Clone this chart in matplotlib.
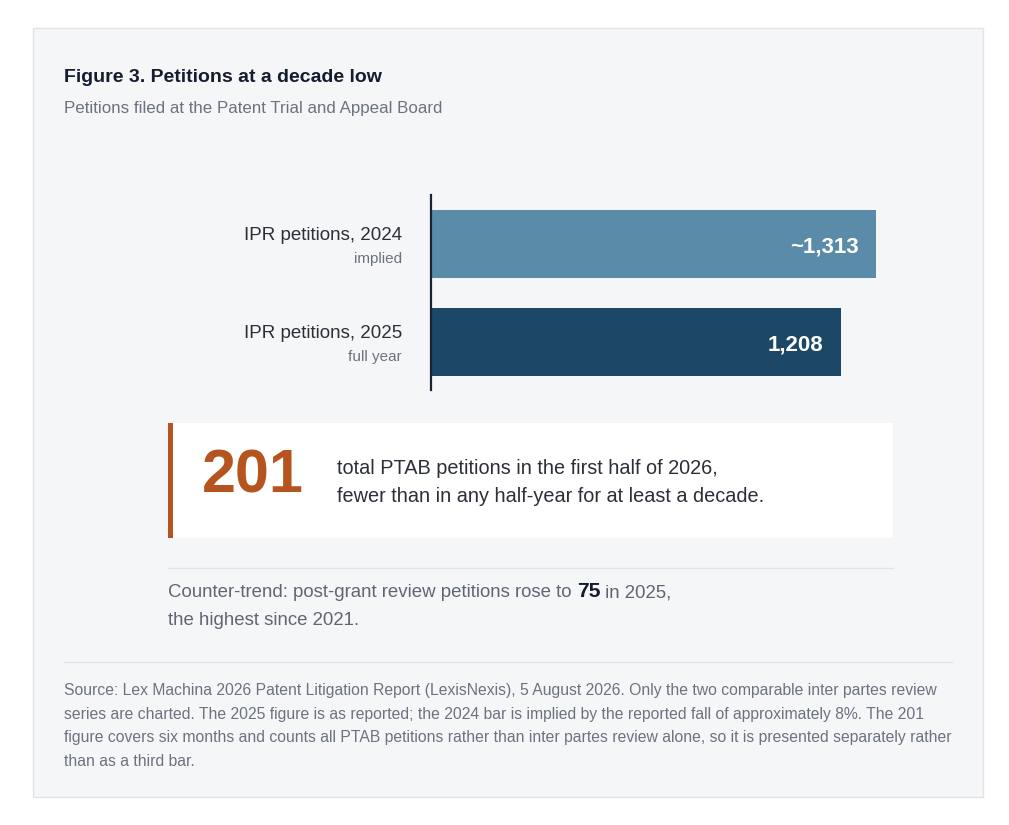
import matplotlib.pyplot as plt
from matplotlib.patches import Rectangle
from matplotlib.lines import Line2D

W, H = 1009, 825

# data
labels = ['IPR petitions, 2024', 'IPR petitions, 2025']
notes = ['implied', 'full year']
values = [1313, 1208]
value_text = ['~1,313', '1,208']
bar_colors = ['#5a8ba8', '#1c4766']

title = 'Figure 3. Petitions at a decade low'
subtitle = 'Petitions filed at the Patent Trial and Appeal Board'
big_number = '201'
callout_lines = ['total PTAB petitions in the first half of 2026,',
                 'fewer than in any half-year for at least a decade.']
source_lines = [
    'Source: Lex Machina 2026 Patent Litigation Report (LexisNexis), 5 August 2026. Only the two comparable inter partes review',
    'series are charted. The 2025 figure is as reported; the 2024 bar is implied by the reported fall of approximately 8%. The 201',
    'figure covers six months and counts all PTAB petitions rather than inter partes review alone, so it is presented separately rather',
    'than as a third bar.',
]

plt.rcParams['font.family'] = ['Liberation Sans', 'DejaVu Sans']

fig = plt.figure(figsize=(W / 100, H / 100), dpi=100)
fig.patch.set_facecolor('white')


def fx(x):
    return x / W


def fy(y):
    return 1 - y / H


def box(x0, y0, x1, y1, **kw):
    fig.patches.append(Rectangle((fx(x0), fy(y1)), fx(x1) - fx(x0), fy(y0) - fy(y1),
                                 transform=fig.transFigure, zorder=-5, **kw))


def hline(x0, x1, y, color, lw=1):
    fig.lines.append(Line2D([fx(x0), fx(x1)], [fy(y), fy(y)], transform=fig.transFigure,
                            color=color, lw=lw))


# card
box(33, 28, 983, 797, facecolor='#f5f6f8', edgecolor='#e1e3e7', lw=1)

fig.text(fx(64), fy(77.5), title, fontsize=14, fontweight='bold', color='#141c2e', va='center')
fig.text(fx(64), fy(108), subtitle, fontsize=12.2, color='#6b7280', va='center')

# bars
ax = fig.add_axes([fx(431), fy(390), fx(906) - fx(431), (390 - 195) / H])
ax.set_zorder(5)
ax.set_facecolor('none')
pos = list(range(len(values)))
ax.barh(pos, values, height=0.694, color=bar_colors)
ax.set_xlim(0, 1400)
ax.set_ylim(1.49, -0.5)
for s in ['top', 'right', 'bottom']:
    ax.spines[s].set_visible(False)
ax.spines['left'].set_color('#1a2333')
ax.spines['left'].set_linewidth(1.6)
ax.set_xticks([])
ax.set_yticks([])
for p, v, t in zip(pos, values, value_text):
    ax.annotate(t, xy=(v, p), xytext=(-18, -3), textcoords='offset pixels',
                ha='right', va='center', color='white', fontsize=16, fontweight='bold')
for p, lab, note in zip(pos, labels, notes):
    ax.annotate(lab, xy=(0, p), xycoords=('axes fraction', 'data'), xytext=(-29, 8),
                textcoords='offset pixels', ha='right', va='center', fontsize=13.5, color='#2b2f38')
    ax.annotate(note, xy=(0, p), xycoords=('axes fraction', 'data'), xytext=(-29, -15),
                textcoords='offset pixels', ha='right', va='center', fontsize=11, color='#6b7280')

# callout
box(168, 423, 893, 538, facecolor='white', edgecolor='none')
box(168, 423, 173, 538, facecolor='#b5541e', edgecolor='none')
fig.text(fx(202), fy(477), big_number, fontsize=44, fontweight='bold', color='#b5541e', va='center')
fig.text(fx(337), fy(468), callout_lines[0], fontsize=14.3, color='#2b2f38', va='center')
fig.text(fx(337), fy(497), callout_lines[1], fontsize=14.3, color='#2b2f38', va='center')

# counter-trend, split in three runs on one baseline
hline(168, 893, 568, '#e1e3e7', 1)
ct = 13.4
base = 597
t1 = fig.text(fx(168), fy(base), 'Counter-trend: post-grant review petitions rose to ', fontsize=ct,
              color='#5f6673', va='baseline')
fig.canvas.draw()
bb = t1.get_window_extent()
t2 = fig.text(bb.x1 / W, fy(base), '75', fontsize=ct + 1.8, fontweight='bold', color='#141c2e',
              va='baseline')
fig.canvas.draw()
bb2 = t2.get_window_extent()
fig.text(bb2.x1 / W, fy(base), ' in 2025,', fontsize=ct, color='#5f6673', va='baseline')
fig.text(fx(168), fy(base + 28), 'the highest since 2021.', fontsize=ct, color='#5f6673', va='baseline')

# source
hline(64, 952, 662, '#e1e3e7', 1)
for i, line in enumerate(source_lines):
    fig.text(fx(64), fy(690.5 + i * 23.7), line, fontsize=11.3, color='#6b7280', va='center')

fig.savefig('out.png', dpi=100, facecolor='white')
